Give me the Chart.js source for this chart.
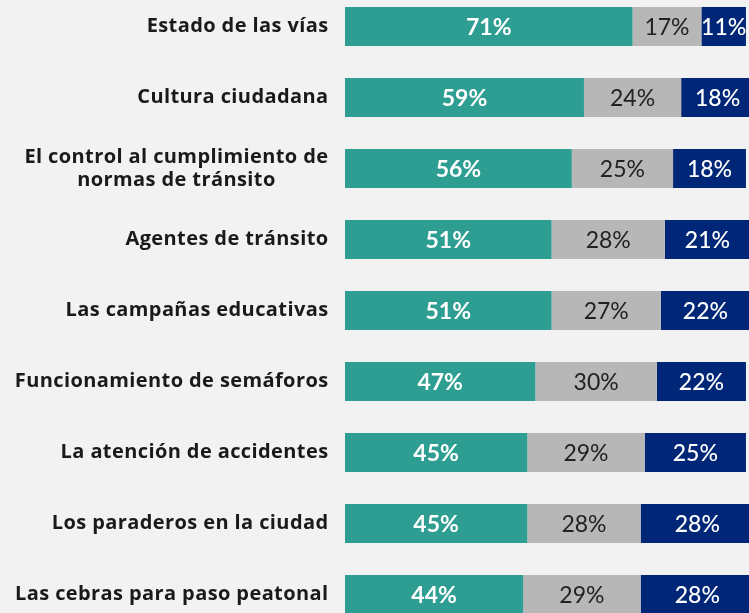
<!DOCTYPE html>
<html>
<head>
<meta charset="utf-8">
<script src="https://cdn.jsdelivr.net/npm/chart.js@4"></script>
<style>
  html, body { margin: 0; padding: 0; background: #f2f2f2; overflow: hidden; }
  #wrap { position: absolute; left: 0; top: -9px; width: 750px; height: 639px; }
</style>
</head>
<body>
<div id="wrap"><canvas id="barChart"></canvas></div>
<script>
var categories = [
  ["Estado de las vías"],
  ["Cultura ciudadana"],
  ["El control al cumplimiento de", "normas de tránsito"],
  ["Agentes de tránsito"],
  ["Las campañas educativas"],
  ["Funcionamiento de semáforos"],
  ["La atención de accidentes"],
  ["Los paraderos en la ciudad"],
  ["Las cebras para paso peatonal"]
];
var teal = [71, 59, 56, 51, 51, 47, 45, 45, 44];
var gray = [17, 24, 25, 28, 27, 30, 29, 28, 29];
var navy = [11, 18, 18, 21, 22, 22, 25, 28, 28];

var labelColors = ["#ffffff", "#222222", "#ffffff"];
var labelWeights = ["bold", "normal", "500"];

// draws category names and the percentages inside the segments
var labelsPlugin = {
  id: "labelsPlugin",
  afterDatasetsDraw: function (chart) {
    var ctx = chart.ctx;
    var yScale = chart.scales.y;
    ctx.save();
    ctx.textBaseline = "middle";

    chart.data.datasets.forEach(function (ds, di) {
      var meta = chart.getDatasetMeta(di);
      ctx.fillStyle = labelColors[di];
      ctx.font = labelWeights[di] + " 23px Lato";
      ctx.textAlign = "center";
      meta.data.forEach(function (bar, i) {
        var p = bar.getProps(["x", "y", "base"], true);
        ctx.fillText(ds.data[i] + "%", (p.x + p.base) / 2, p.y + 1);
      });
    });

    ctx.fillStyle = "#1a1a1a";
    ctx.font = "bold 20px 'Open Sans'";
    ctx.letterSpacing = "0.4px";
    var right = 328.5;
    categories.forEach(function (lines, i) {
      var y = yScale.getPixelForValue(i);
      if (lines.length === 1) {
        ctx.textAlign = "right";
        ctx.fillText(lines[0], right, y);
      } else {
        var w = 0;
        lines.forEach(function (l) { w = Math.max(w, ctx.measureText(l).width); });
        ctx.textAlign = "center";
        var lh = 23;
        lines.forEach(function (l, k) {
          ctx.fillText(l, right - w / 2, y + (k - (lines.length - 1) / 2) * lh);
        });
      }
    });
    ctx.restore();
  }
};

new Chart(document.getElementById("barChart"), {
  type: "bar",
  data: {
    labels: categories,
    datasets: [
      { label: "teal", data: teal, backgroundColor: "#2e9e93" },
      { label: "gray", data: gray, backgroundColor: "#b7b7b7" },
      { label: "navy", data: navy, backgroundColor: "#002677" }
    ]
  },
  options: {
    indexAxis: "y",
    responsive: true,
    maintainAspectRatio: false,
    animation: false,
    layout: { padding: 0 },
    datasets: { bar: { categoryPercentage: 1, barPercentage: 0.55, borderWidth: 0 } },
    scales: {
      x: { stacked: true, min: 0, max: 100, display: false },
      y: {
        stacked: true,
        grid: { display: false },
        border: { display: false },
        ticks: { display: false },
        afterFit: function (axis) { axis.width = 345; }
      }
    },
    plugins: {
      legend: { display: false },
      tooltip: { enabled: false }
    }
  },
  plugins: [labelsPlugin]
});
</script>
</body>
</html>
